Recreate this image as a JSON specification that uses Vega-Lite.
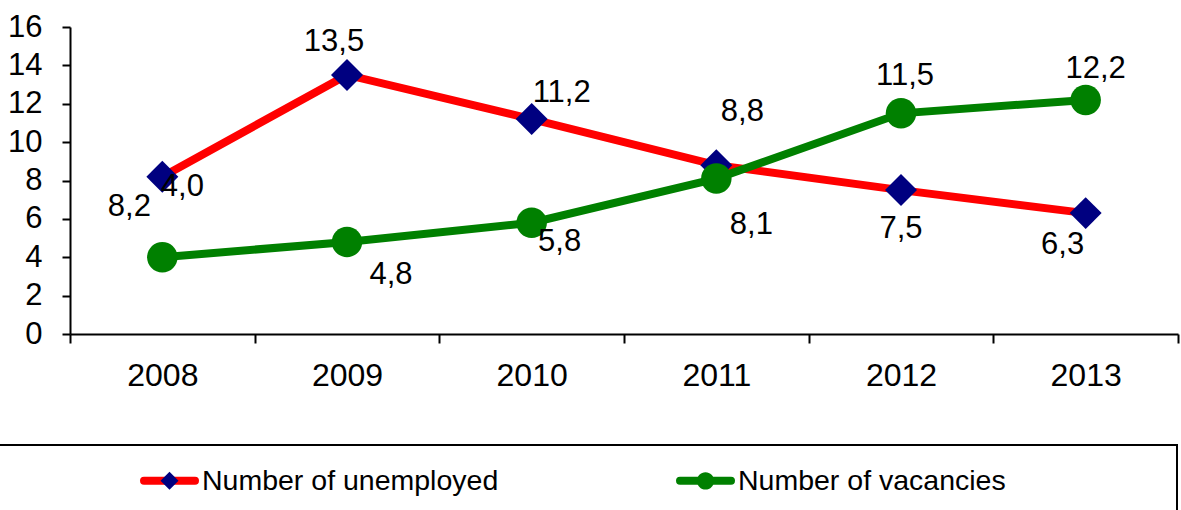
{
  "$schema": "https://vega.github.io/schema/vega-lite/v6.json",
  "width": 1108,
  "height": 307,
  "autosize": {"type": "none"},
  "padding": {"left": 70, "top": 27, "right": 3, "bottom": 176},
  "config": {
    "view": {"stroke": null},
    "font": "Liberation Sans",
    "locale": {"number": {"decimal": ",", "thousands": ".", "grouping": [3], "currency": ["", ""]}}
  },
  "data": {
    "values": [
      {"year": "2008", "series": "Number of unemployed", "value": 8.2},
      {"year": "2009", "series": "Number of unemployed", "value": 13.5},
      {"year": "2010", "series": "Number of unemployed", "value": 11.2},
      {"year": "2011", "series": "Number of unemployed", "value": 8.8},
      {"year": "2012", "series": "Number of unemployed", "value": 7.5},
      {"year": "2013", "series": "Number of unemployed", "value": 6.3},
      {"year": "2008", "series": "Number of vacancies", "value": 4.0},
      {"year": "2009", "series": "Number of vacancies", "value": 4.8},
      {"year": "2010", "series": "Number of vacancies", "value": 5.8},
      {"year": "2011", "series": "Number of vacancies", "value": 8.1},
      {"year": "2012", "series": "Number of vacancies", "value": 11.5},
      {"year": "2013", "series": "Number of vacancies", "value": 12.2}
    ]
  },
  "encoding": {
    "x": {
      "field": "year", "type": "nominal",
      "scale": {"type": "band", "paddingInner": 0, "paddingOuter": 0},
      "axis": {
        "title": null, "labelAngle": 0, "tickBand": "extent",
        "domainColor": "black", "domainWidth": 2, "tickColor": "black", "tickWidth": 2, "tickSize": 9,
        "labelFont": "Liberation Sans", "labelFontSize": 32, "labelColor": "black", "labelPadding": 17
      }
    },
    "y": {
      "field": "value", "type": "quantitative",
      "scale": {"domain": [0, 16], "nice": false},
      "axis": {
        "title": null, "grid": false, "values": [0, 2, 4, 6, 8, 10, 12, 14, 16], "format": "d",
        "domainColor": "black", "domainWidth": 2, "tickColor": "black", "tickWidth": 2, "tickSize": 8,
        "labelFont": "Liberation Sans", "labelFontSize": 31, "labelColor": "black", "labelPadding": 20
      }
    }
  },
  "layer": [
    {
      "transform": [{"filter": "datum.series === 'Number of unemployed'"}],
      "mark": {"type": "line", "strokeWidth": 8},
      "encoding": {
        "color": {
          "field": "series", "type": "nominal",
          "scale": {"domain": ["Number of unemployed", "Number of vacancies"], "range": ["#FF0000", "#008000"]},
          "legend": {
            "orient": "none", "legendX": -73, "legendY": 418, "direction": "horizontal",
            "title": " ", "titleOrient": "right", "titlePadding": 165, "titleFontSize": 70,
            "padding": 6, "strokeColor": "black",
            "symbolType": "stroke", "symbolSize": 2601, "symbolStrokeWidth": 8,
            "symbolOffset": 137, "labelOffset": 3, "columnPadding": 40,
            "labelFont": "Liberation Sans", "labelFontSize": 28.5, "labelColor": "black", "labelLimit": 500,
            "encode": {
              "legend": {"update": {"strokeWidth": {"value": 2}}},
              "symbols": {"update": {"strokeCap": {"value": "round"}}}
            }
          }
        }
      }
    },
    {
      "transform": [{"filter": "datum.series === 'Number of unemployed'"}],
      "mark": {"type": "point", "filled": true, "size": 8200, "opacity": 1},
      "encoding": {
        "fill": {
          "field": "series", "type": "nominal",
          "scale": {"range": ["#000080", "#008000"]},
          "legend": {
            "orient": "none", "legendX": -73, "legendY": 418, "direction": "horizontal",
            "title": null, "padding": 6,
            "symbolSize": 2601, "symbolStrokeWidth": 8,
            "symbolOffset": 137, "labelOffset": 3, "columnPadding": 40,
            "labelFont": "Liberation Sans", "labelFontSize": 28.5, "labelOpacity": 0, "labelLimit": 500,
            "encode": {
              "symbols": {"update": {"strokeOpacity": {"value": 0}, "fillOpacity": {"value": 1}}}
            }
          }
        },
        "shape": {
          "field": "series", "type": "nominal",
          "scale": {"range": ["M0,-0.353L0.353,0L0,0.353L-0.353,0Z", "M-0.337,0A0.337,0.337,0,1,0,0.337,0A0.337,0.337,0,1,0,-0.337,0Z"]}
        }
      }
    },
    {
      "transform": [{"filter": "datum.series === 'Number of vacancies'"}],
      "mark": {"type": "line", "strokeWidth": 8},
      "encoding": {"color": {"field": "series", "type": "nominal"}}
    },
    {
      "transform": [{"filter": "datum.series === 'Number of vacancies'"}],
      "mark": {"type": "point", "filled": true, "size": 8200, "opacity": 1},
      "encoding": {
        "fill": {"field": "series", "type": "nominal"},
        "shape": {"field": "series", "type": "nominal"}
      }
    },
    {"transform": [{"filter": "datum.series === 'Number of unemployed' && datum.year === '2008'"}], "mark": {"type": "text", "fontSize": 31, "font": "Liberation Sans", "color": "black", "dx": -33, "dy": 30}, "encoding": {"text": {"field": "value", "type": "quantitative", "format": ".1f"}}},
    {"transform": [{"filter": "datum.series === 'Number of unemployed' && datum.year === '2009'"}], "mark": {"type": "text", "fontSize": 31, "font": "Liberation Sans", "color": "black", "dx": -13, "dy": -33}, "encoding": {"text": {"field": "value", "type": "quantitative", "format": ".1f"}}},
    {"transform": [{"filter": "datum.series === 'Number of unemployed' && datum.year === '2010'"}], "mark": {"type": "text", "fontSize": 31, "font": "Liberation Sans", "color": "black", "dx": 30, "dy": -26}, "encoding": {"text": {"field": "value", "type": "quantitative", "format": ".1f"}}},
    {"transform": [{"filter": "datum.series === 'Number of unemployed' && datum.year === '2011'"}], "mark": {"type": "text", "fontSize": 31, "font": "Liberation Sans", "color": "black", "dx": 26, "dy": -53}, "encoding": {"text": {"field": "value", "type": "quantitative", "format": ".1f"}}},
    {"transform": [{"filter": "datum.series === 'Number of unemployed' && datum.year === '2012'"}], "mark": {"type": "text", "fontSize": 31, "font": "Liberation Sans", "color": "black", "dx": 0, "dy": 39}, "encoding": {"text": {"field": "value", "type": "quantitative", "format": ".1f"}}},
    {"transform": [{"filter": "datum.series === 'Number of unemployed' && datum.year === '2013'"}], "mark": {"type": "text", "fontSize": 31, "font": "Liberation Sans", "color": "black", "dx": -23, "dy": 32}, "encoding": {"text": {"field": "value", "type": "quantitative", "format": ".1f"}}},
    {"transform": [{"filter": "datum.series === 'Number of vacancies' && datum.year === '2008'"}], "mark": {"type": "text", "fontSize": 31, "font": "Liberation Sans", "color": "black", "dx": 20, "dy": -70}, "encoding": {"text": {"field": "value", "type": "quantitative", "format": ".1f"}}},
    {"transform": [{"filter": "datum.series === 'Number of vacancies' && datum.year === '2009'"}], "mark": {"type": "text", "fontSize": 31, "font": "Liberation Sans", "color": "black", "dx": 44, "dy": 33}, "encoding": {"text": {"field": "value", "type": "quantitative", "format": ".1f"}}},
    {"transform": [{"filter": "datum.series === 'Number of vacancies' && datum.year === '2010'"}], "mark": {"type": "text", "fontSize": 31, "font": "Liberation Sans", "color": "black", "dx": 28, "dy": 19}, "encoding": {"text": {"field": "value", "type": "quantitative", "format": ".1f"}}},
    {"transform": [{"filter": "datum.series === 'Number of vacancies' && datum.year === '2011'"}], "mark": {"type": "text", "fontSize": 31, "font": "Liberation Sans", "color": "black", "dx": 35, "dy": 46}, "encoding": {"text": {"field": "value", "type": "quantitative", "format": ".1f"}}},
    {"transform": [{"filter": "datum.series === 'Number of vacancies' && datum.year === '2012'"}], "mark": {"type": "text", "fontSize": 31, "font": "Liberation Sans", "color": "black", "dx": 4, "dy": -37}, "encoding": {"text": {"field": "value", "type": "quantitative", "format": ".1f"}}},
    {"transform": [{"filter": "datum.series === 'Number of vacancies' && datum.year === '2013'"}], "mark": {"type": "text", "fontSize": 31, "font": "Liberation Sans", "color": "black", "dx": 10, "dy": -31}, "encoding": {"text": {"field": "value", "type": "quantitative", "format": ".1f"}}}
  ]
}
